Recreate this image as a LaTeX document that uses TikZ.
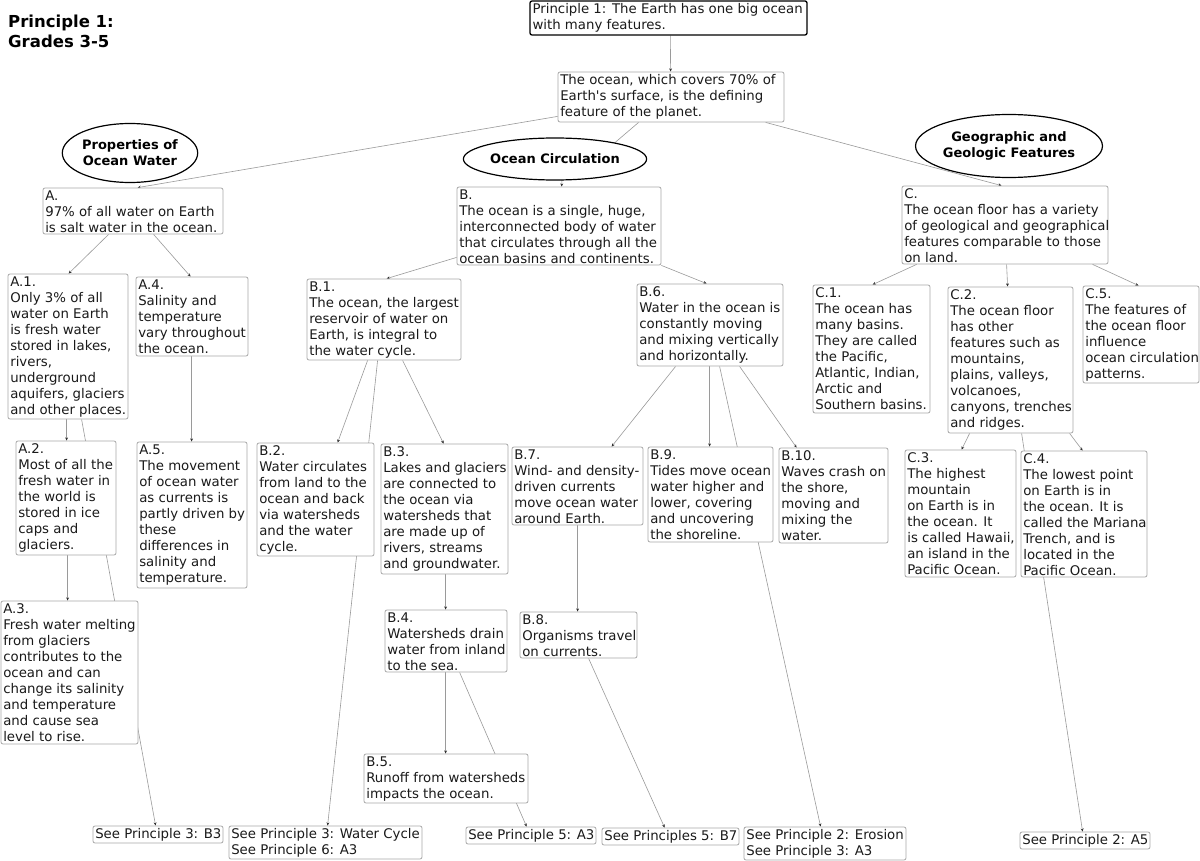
\documentclass[tikz,border=0pt]{standalone}
\usepackage{fontspec}
\setmainfont{DejaVu Sans}
\usetikzlibrary{arrows.meta,shapes.geometric,calc}
\pgfdeclarelayer{bg}
\pgfsetlayers{bg,main}
\definecolor{boxgray}{HTML}{A8A8A8}
\definecolor{linegray}{HTML}{9A9A9A}
\definecolor{tipgray}{HTML}{303030}
\definecolor{txt}{HTML}{1A1A1A}
\tikzset{
  cbox/.style={draw=boxgray, line width=0.8pt, rounded corners=2pt, fill=white, inner sep=0pt},
  ctext/.style={anchor=north west, inner sep=0pt, align=left, text=txt, font=\fontsize{13.3}{16}\selectfont},
  topic/.style={ellipse, draw=black, line width=1.2pt, fill=white, inner sep=0pt, align=center,
    font=\bfseries\fontsize{13}{16}\selectfont},
  conn/.style={draw=linegray, line width=0.6pt, -{Stealth[length=3.2pt,width=2.8pt,color=tipgray]}},
  plain/.style={draw=linegray, line width=0.6pt},
}
% name, x1, y1, x2, y2, text
\newcommand\bxn[6]{%
  \node[cbox, minimum width={#4-#2}, minimum height={#5-#3}] (#1) at ({(#2+#4)/2},{(#3+#5)/2}) {};
  \node[ctext] (#1-t) at ([shift={(2.5,2.6)}]#1.north west) {#6};}
\begin{document}
\begin{tikzpicture}[x=1pt,y=-1pt]
\useasboundingbox (0,0) rectangle (1200,861);

\node[font=\bfseries\fontsize{16.5}{20.5}\selectfont, align=left, anchor=north west, inner sep=0pt] (title) at (8,14.5) {Principle 1:\\Grades 3-5};

\node[cbox, draw=black, line width=1.3pt, minimum width=277, minimum height=34] (P1) at (668.5,18) {};
\node[ctext] (P1-t) at ([shift={(3,2.6)}]P1.north west) {Principle 1: The Earth has one big ocean\\with many features.};
\bxn{OC}{558}{72}{784}{122}{The ocean, which covers 70\% of\\Earth\textquotesingle s surface, is the defining\\feature of the planet.}

\node[topic, minimum width=120, minimum height=59] (ePW) at (130,153) {Properties of\\Ocean Water};
\node[topic, minimum width=141, minimum height=42] (eOC) at (555,159) {Ocean Circulation};
\node[topic, minimum width=154, minimum height=63] (eGG) at (1009,146) {Geographic and\\Geologic Features};

\bxn{A}{43}{188}{223}{234}{A.\\97\% of all water on Earth\\is salt water in the ocean.}
\bxn{A1}{8}{274}{128}{419}{A.1.\\Only 3\% of all\\water on Earth\\is fresh water\\stored in lakes,\\rivers,\\underground\\aquifers, glaciers\\and other places.}
\bxn{A4}{136}{277}{248}{356}{A.4.\\Salinity and\\temperature\\vary throughout\\the ocean.}
\bxn{A2}{16}{441}{116}{555}{A.2.\\Most of all the\\fresh water in\\the world is\\stored in ice\\caps and\\glaciers.}
\bxn{A5}{137}{442}{247}{588}{A.5.\\The movement\\of ocean water\\as currents is\\partly driven by\\these\\differences in\\salinity and\\temperature.}
\bxn{A3}{1}{601}{138}{744}{A.3.\\Fresh water melting\\from glaciers\\contributes to the\\ocean and can\\change its salinity\\and temperature\\and cause sea\\level to rise.}
\bxn{SB3}{93}{826}{223}{843}{See Principle 3: B3}
\bxn{SWC}{229}{826}{422}{859}{See Principle 3: Water Cycle\\See Principle 6: A3}

\bxn{B}{457}{187}{661}{265}{B.\\The ocean is a single, huge,\\interconnected body of water\\that circulates through all the\\ocean basins and continents.}
\bxn{B1}{307}{279}{461}{360}{B.1.\\The ocean, the largest\\reservoir of water on\\Earth, is integral to\\the water cycle.}
\bxn{B2}{257}{443}{374}{556}{B.2.\\Water circulates\\from land to the\\ocean and back\\via watersheds\\and the water\\cycle.}
\bxn{B3}{381}{444}{508}{574}{B.3.\\Lakes and glaciers\\are connected to\\the ocean via\\watersheds that\\are made up of\\rivers, streams\\and groundwater.}
\bxn{B4}{385}{610}{507}{672}{B.4.\\Watersheds drain\\water from inland\\to the sea.}
\bxn{B5}{364}{754}{528}{803}{B.5.\\Runoff from watersheds\\impacts the ocean.}
\bxn{SA3}{466}{827}{596}{844}{See Principle 5: A3}
\bxn{B6}{637}{284}{783}{366}{B.6.\\Water in the ocean is\\constantly moving\\and mixing vertically\\and horizontally.}
\bxn{B7}{512}{447}{643}{525}{B.7.\\Wind- and density-\\driven currents\\move ocean water\\around Earth.}
\bxn{B8}{520}{612}{637}{658}{B.8.\\Organisms travel\\on currents.}
\bxn{B9}{648}{447}{773}{542}{B.9.\\Tides move ocean\\water higher and\\lower, covering\\and uncovering\\the shoreline.}
\bxn{B10}{779}{448}{888}{543}{B.10.\\Waves crash on\\the shore,\\moving and\\mixing the\\water.}
\bxn{SB7}{602}{828}{739}{845}{See Principles 5: B7}
\bxn{SER}{744}{827}{906}{860}{See Principle 2: Erosion\\See Principle 3: A3}

\bxn{C}{902}{186}{1108}{264}{C.\\The ocean floor has a variety\\of geological and geographical\\features comparable to those\\on land.}
\bxn{C1}{813}{285}{930}{413}{C.1.\\The ocean has\\many basins.\\They are called\\the Pacific,\\Atlantic, Indian,\\Arctic and\\Southern basins.}
\bxn{C2}{948}{287}{1073}{433}{C.2.\\The ocean floor\\has other\\features such as\\mountains,\\plains, valleys,\\volcanoes,\\canyons, trenches\\and ridges.}
\bxn{C5}{1083}{286}{1199}{383}{C.5.\\The features of\\the ocean floor\\influence\\ocean circulation\\patterns.}
\bxn{C3}{905}{450}{1016}{577}{C.3.\\The highest\\mountain\\on Earth is in\\the ocean. It\\is called Hawaii,\\an island in the\\Pacific Ocean.}
\bxn{C4}{1021}{451}{1147}{577}{C.4.\\The lowest point\\on Earth is in\\the ocean. It is\\called the Mariana\\Trench, and is\\located in the\\Pacific Ocean.}
\bxn{SA5}{1020}{832}{1150}{849}{See Principle 2: A5}

\begin{pgfonlayer}{bg}
\fill[white] (0,0) rectangle (1200,861);
\draw[conn] ([xshift=141pt]P1.south west) -- ([xshift=113pt]OC.north west);
\draw[conn] ([yshift=6pt]OC.south west) -- ([xshift=95pt]A.north west);
\draw[plain] ([xshift=81pt]OC.south west) -- ([shift={(56,-13)}]eOC.center);
\draw[conn] ([shift={(7,21)}]eOC.center) -- ([xshift=105pt]B.north west);
\draw[conn] ([xshift=208pt]OC.south west) -- ([xshift=100pt]C.north west);
\draw[conn] ([xshift=66pt]A.south west) -- ([xshift=61pt]A1.north west);
\draw[conn] ([xshift=111pt]A.south west) -- ([xshift=55pt]A4.north west);
\draw[conn] ([xshift=59pt]A1.south west) -- ([xshift=51pt]A2.north west);
\draw[conn] ([xshift=74pt]A1.south west) -- ([xshift=63pt]SB3.north west);
\draw[conn] ([xshift=52pt]A2.south west) -- ([xshift=67pt]A3.north west);
\draw[conn] ([xshift=56pt]A4.south west) -- ([xshift=55pt]A5.north west);
\draw[conn] ([yshift=8pt]B.south west) -- ([xshift=80pt]B1.north west);
\draw[conn] (B.south east) -- ([xshift=70pt]B6.north west);
\draw[conn] ([xshift=61pt]B1.south west) -- ([xshift=81pt]B2.north west);
\draw[conn] ([xshift=96pt]B1.south west) -- ([xshift=63pt]B3.north west);
\draw[conn] ([xshift=71pt]B1.south west) -- ([xshift=99pt]SWC.north west);
\draw[conn] ([xshift=65pt]B3.south west) -- ([xshift=61pt]B4.north west);
\draw[conn] ([xshift=61pt]B4.south west) -- ([xshift=82pt]B5.north west);
\draw[conn] ([xshift=75pt]B4.south west) -- ([xshift=61pt]SA3.north west);
\draw[conn] ([xshift=39pt]B6.south west) -- ([xshift=100pt]B7.north west);
\draw[conn] ([xshift=73pt]B6.south west) -- ([xshift=62pt]B9.north west);
\draw[conn] ([xshift=83pt]B6.south west) -- ([xshift=77pt]SER.north west);
\draw[conn] ([xshift=103pt]B6.south west) -- ([xshift=18pt]B10.north west);
\draw[conn] ([xshift=66pt]B7.south west) -- ([xshift=58pt]B8.north west);
\draw[conn] ([xshift=69pt]B8.south west) -- ([xshift=63pt]SB7.north west);
\draw[conn] ([xshift=15pt]C.south west) -- ([xshift=60pt]C1.north west);
\draw[conn] ([xshift=105pt]C.south west) -- ([xshift=60pt]C2.north west);
\draw[conn] ([xshift=191pt]C.south west) -- ([xshift=56pt]C5.north west);
\draw[conn] ([xshift=22pt]C2.south west) -- ([xshift=57pt]C3.north west);
\draw[conn] ([xshift=122pt]C2.south west) -- ([xshift=62pt]C4.north west);
\draw[conn] ([xshift=74pt]C2.south west) -- ([xshift=63pt]SA5.north west);
\end{pgfonlayer}
\end{tikzpicture}
\end{document}
